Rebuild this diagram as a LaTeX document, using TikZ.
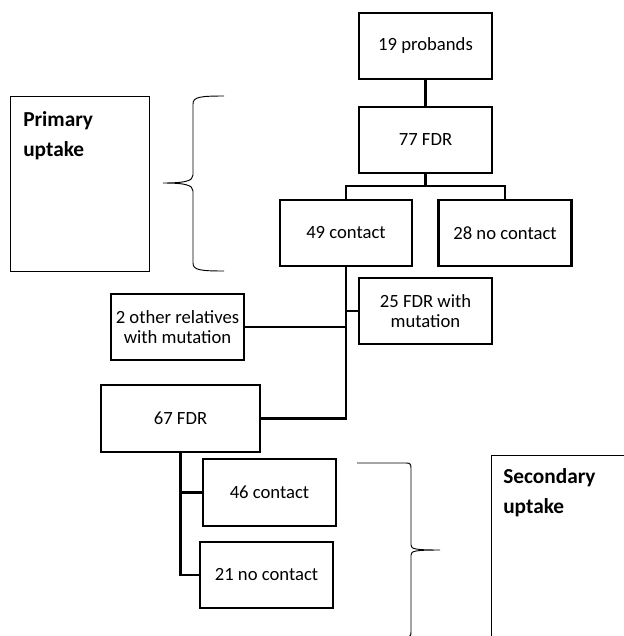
\documentclass[tikz,border=0pt]{standalone}
\usepackage{fontspec}
\setmainfont{Carlito}
\usepackage{tikz}

\begin{document}
\begin{tikzpicture}[x=0.75pt,y=-0.75pt,
   every node/.style={font=\fontsize{14}{15.5}\selectfont,align=center},
   box/.style={draw,line width=2pt,minimum width=99.75pt,minimum height=49.5pt,inner sep=1pt},
   note/.style={draw,line width=0.7pt},
   notetext/.style={anchor=north west,inner sep=0pt,align=left,font=\fontsize{16}{22.5}\selectfont\bfseries},
   link/.style={line width=2pt},
   brace/.style={line width=0.7pt}]
  \useasboundingbox (0,0) rectangle (624,636);
  \clip (0,0) rectangle (624,636);
  \node[box] (prob) at (425.5,46) {19 probands};
  \node[box] (fdr) at (425.5,140) {77 FDR};
  \node[box,minimum width=99pt] (contact) at (346,233) {49 contact};
  \node[box] (nocontact) at (505,233) {28 no contact};
  \node[box] (mut) at (425.5,311) {25 FDR with\\mutation};
  \node[box] (other) at (177.5,327) {2 other relatives\\with mutation};
  \node[box,minimum width=119.25pt,minimum height=50.25pt] (fdrb) at (180.5,418.5) {67 FDR};
  \node[box,minimum height=50.25pt] (contactb) at (269.5,492.5) {46 contact};
  \node[box] (nocontactb) at (266.5,575) {21 no contact};
  \node[note,minimum width=104.25pt,minimum height=131.25pt] (prim) at (79.5,183.5) {};
  \node[notetext] (primtext) at (23,111) {Primary\\uptake};
  \node[note,minimum width=111.75pt,minimum height=153.75pt] (sec) at (565.5,557.5) {};
  \node[notetext] (sectext) at (503,468) {Secondary\\uptake};
  \coordinate (split) at (425.5,186);
  \draw[link] (prob)--(fdr);
  \draw[link] (fdr)--(split);
  \draw[link,line width=1.6pt] (contact.north) |- (split) -| (nocontact.north);
  \draw[link] (contact.south) |- (fdrb.east);
  \draw[link] (mut.west)--(mut.west -| contact.south);
  \draw[link] (other.east)--(other.east -| contact.south);
  \draw[link] (fdrb.south) |- (nocontactb.west);
  \draw[link] (contactb.west)--(contactb.west -| fdrb.south);
  \draw[brace] (224,96) .. controls (200,96) and (193,97) .. (193,104) -- (193,175)
    .. controls (193,181) and (185,183) .. (163,183)
    .. controls (185,183) and (193,185) .. (193,191) -- (193,263)
    .. controls (193,270) and (200,271) .. (224,271);
  \draw[brace] (357,463) -- (406,463) .. controls (410,463) and (411,464) .. (411,468) -- (411,545)
    .. controls (411,549) and (415,550) .. (440,550)
    .. controls (415,550) and (411,551) .. (411,555) -- (411,632)
    .. controls (411,636) and (410,637) .. (406,637) -- (357,637);
\end{tikzpicture}
\end{document}
